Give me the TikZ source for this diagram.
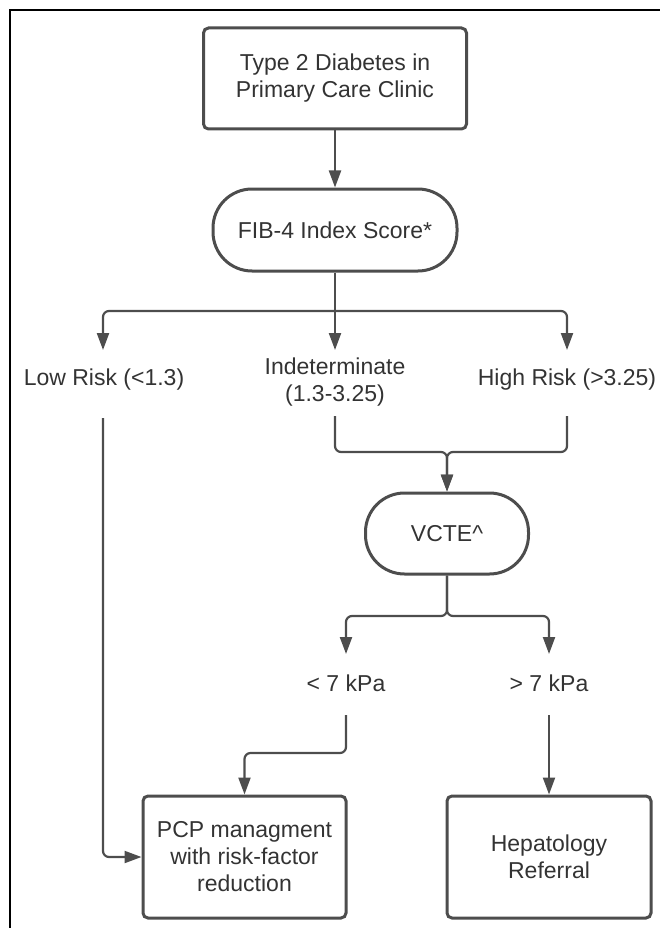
\documentclass[tikz,border=0pt]{standalone}
\usepackage{fontspec}
\setmainfont{Liberation Sans}
\usetikzlibrary{arrows.meta}
\definecolor{ln}{HTML}{4D4D4D}
\definecolor{tx}{HTML}{333333}
\newcommand\diafont{\fontsize{23}{27}\selectfont}
\begin{document}
\begin{tikzpicture}[x=1pt,y=-1pt,
  every node/.style={text=tx, font=\diafont, align=center, inner sep=0pt},
  procbox/.style={draw=ln, line width=3pt, rounded corners=5pt},
  termbox/.style={draw=ln, line width=3pt, rounded corners=39pt},
  conn/.style={draw=ln, line width=2.2pt, rounded corners=6pt},
  arr/.style={conn, -{Triangle[length=17pt,width=12pt]}}]
\useasboundingbox (0,0) rectangle (660,928);
% frame
\draw[black, line width=1.5pt] (10,928) -- (10,10) -- (660,10);

% nodes
\node[procbox, minimum width=263pt, minimum height=101pt] (start) at (335,78.5)
  {Type 2 Diabetes in\\Primary Care Clinic};
\node[termbox, minimum width=244pt, minimum height=82pt] (fib) at (335,230)
  {FIB-4 Index Score*};
\node (low) at (104,380) {Low Risk (<1.3)};
\node (ind) at (335,382) {Indeterminate\\(1.3-3.25)};
\node (high) at (567,380) {High Risk (>3.25)};
\node[termbox, minimum width=163pt, minimum height=81pt] (vcte) at (447,533.5) {VCTE\^{}};
\node (lt) at (346,683) {< 7 kPa};
\node (gt) at (549,683) {> 7 kPa};
\node[procbox, minimum width=203pt, minimum height=122pt] (pcp) at (244.5,857)
  {PCP managment\\with risk-factor\\reduction};
\node[procbox, minimum width=204pt, minimum height=122pt] (hep) at (549,857)
  {Hepatology\\Referral};

% connector coordinates
\coordinate (fork1) at (335,311);
\coordinate (inLow) at (103,350);
\coordinate (inInd) at (335,350);
\coordinate (inHigh) at (567,350);
\coordinate (outLow) at (103,418);
\coordinate (outInd) at (335,416);
\coordinate (outHigh) at (567,416);
\coordinate (merge) at (447,452);
\coordinate (fork2) at (447,616);
\coordinate (inLt) at (346,654);
\coordinate (inGt) at (549,654);
\coordinate (outLt) at (346,715);
\coordinate (outGt) at (549,715);

% connectors
\draw[arr] (start.south) -- (fib.north);
\draw[arr] (fib.south) -- (inInd);
\draw[arr] (fork1) -| (inLow);
\draw[arr] (fork1) -| (inHigh);
\draw[arr] (outInd) |- (merge) -- (vcte.north);
\draw[arr] (outHigh) |- (merge) -- (vcte.north);
\draw[arr] (vcte.south) -- (fork2) -| (inLt);
\draw[arr] (vcte.south) -- (fork2) -| (inGt);
\draw[arr] (outLt) -- ++(0,38) -| (pcp.north);
\draw[arr] (outGt) -- (hep.north);
\draw[arr] (outLow) |- (pcp.west);
\end{tikzpicture}
\end{document}
